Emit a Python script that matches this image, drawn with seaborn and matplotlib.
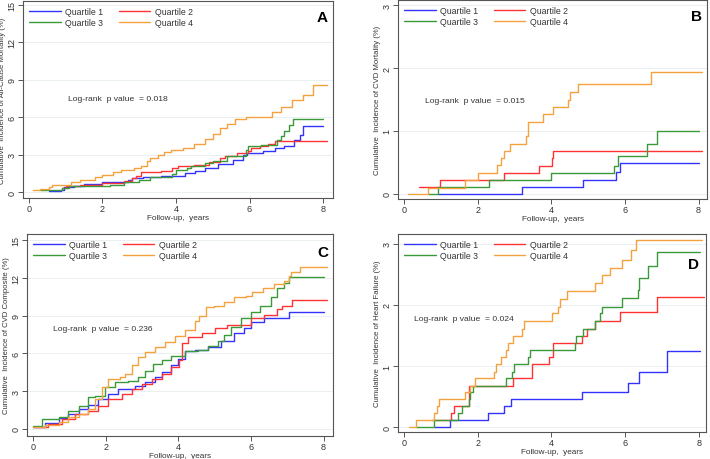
import matplotlib
matplotlib.use("Agg")
import matplotlib.pyplot as plt
import seaborn as sns
import pandas as pd

QUARTILES = ["Quartile 1", "Quartile 2", "Quartile 3", "Quartile 4"]
COLORS = ["#3333ff", "#ff3333", "#3a9a3a", "#f4a23e"]

# panel A - all-cause mortality (step knots: time, value after step)
a_q1_t = [0.55, 0.86, 0.95, 1.22, 1.5, 2.0, 2.7, 2.8, 3.1, 3.6, 4.24, 4.51, 4.78, 5.14, 5.55, 5.83, 5.92, 6.37, 6.7, 6.93, 7.2, 7.38, 7.45, 8.0]
a_q1_y = [0.05, 0.2, 0.37, 0.5, 0.65, 0.8, 0.95, 1.1, 1.2, 1.3, 1.5, 1.67, 1.93, 2.25, 2.6, 3.0, 3.15, 3.3, 3.5, 3.7, 4.2, 4.6, 5.3, 5.3]
a_q2_t = [0.9, 1.0, 1.4, 2.0, 2.6, 2.8, 2.9, 3.05, 3.6, 3.9, 4.05, 4.5, 4.9, 5.2, 5.33, 5.65, 5.97, 6.05, 6.28, 6.5, 6.7, 8.12]
a_q2_y = [0.3, 0.45, 0.6, 0.75, 0.85, 1.1, 1.3, 1.6, 1.7, 1.9, 2.1, 2.15, 2.4, 2.7, 2.85, 3.1, 3.3, 3.55, 3.65, 3.85, 4.05, 4.05]
a_q3_t = [0.3, 0.9, 1.1, 2.2, 2.6, 3.0, 3.3, 3.9, 4.0, 4.3, 4.4, 4.8, 5.0, 5.4, 5.9, 5.95, 6.3, 6.75, 6.85, 6.95, 7.08, 7.17, 8.0]
a_q3_y = [0.15, 0.35, 0.5, 0.6, 0.8, 0.95, 1.2, 1.45, 1.8, 1.9, 2.1, 2.3, 2.5, 2.85, 3.4, 3.7, 3.8, 4.2, 4.5, 4.9, 5.4, 5.85, 5.85]
a_q4_t = [0.11, 0.29, 0.55, 0.64, 1.14, 1.4, 1.8, 2.0, 2.3, 2.5, 2.86, 3.04, 3.2, 3.3, 3.5, 3.68, 3.86, 4.2, 4.5, 4.78, 5.0, 5.2, 5.4, 5.6, 5.9, 6.62, 6.85, 7.15, 7.45, 7.72, 8.1]
a_q4_y = [0.15, 0.24, 0.37, 0.6, 0.8, 1.0, 1.2, 1.4, 1.6, 1.75, 1.9, 2.05, 2.45, 2.7, 2.95, 3.2, 3.35, 3.55, 3.85, 4.25, 4.65, 5.1, 5.45, 5.85, 6.0, 6.4, 6.8, 7.4, 7.8, 8.6, 8.6]

# panel B - CVD mortality
b_q1_t = [0.92, 3.2, 4.85, 5.77, 5.88, 8.0]
b_q1_y = [0.0, 0.11, 0.22, 0.35, 0.49, 0.49]
b_q2_t = [0.4, 0.99, 2.73, 3.68, 4.02, 4.05, 8.1]
b_q2_y = [0.11, 0.22, 0.33, 0.45, 0.57, 0.68, 0.68]
b_q3_t = [0.65, 0.92, 2.3, 4.0, 5.7, 5.81, 6.6, 6.86, 8.0]
b_q3_y = [0.0, 0.11, 0.22, 0.33, 0.45, 0.6, 0.79, 1.0, 1.0]
b_q4_t = [0.1, 0.65, 1.65, 2.0, 2.53, 2.64, 2.73, 2.88, 3.31, 3.37, 3.78, 4.04, 4.45, 4.52, 4.74, 6.7, 8.1]
b_q4_y = [0.0, 0.1, 0.22, 0.33, 0.46, 0.57, 0.68, 0.8, 0.92, 1.15, 1.27, 1.38, 1.5, 1.62, 1.74, 1.94, 1.94]

# panel C - CVD composite
c_q1_t = [0.0, 0.33, 0.7, 0.97, 1.25, 1.52, 1.8, 2.07, 2.35, 2.8, 3.08, 3.36, 3.54, 3.8, 3.99, 4.18, 4.45, 4.82, 5.18, 5.54, 5.8, 6.0, 6.35, 7.04, 8.0]
c_q1_y = [0.15, 0.5, 0.9, 1.2, 1.6, 1.9, 2.4, 2.8, 3.2, 3.4, 3.7, 4.1, 4.5, 5.05, 5.6, 6.2, 6.3, 6.5, 7.0, 7.6, 8.0, 8.5, 8.8, 9.3, 9.3]
c_q2_t = [0.0, 0.4, 0.79, 1.16, 1.52, 1.8, 2.07, 2.44, 2.72, 2.99, 3.27, 3.54, 3.8, 4.03, 4.1, 4.27, 4.64, 5.0, 5.35, 6.0, 6.35, 6.72, 6.85, 7.13, 8.1]
c_q2_y = [0.13, 0.4, 0.8, 1.2, 1.46, 1.86, 2.4, 2.8, 3.2, 3.6, 4.0, 4.4, 4.95, 5.5, 6.8, 7.3, 7.6, 8.05, 8.3, 8.85, 9.1, 9.5, 9.8, 10.25, 10.25]
c_q3_t = [0.0, 0.24, 0.7, 0.97, 1.25, 1.52, 1.71, 1.98, 2.26, 2.62, 2.9, 3.08, 3.31, 3.54, 3.8, 4.18, 4.55, 4.82, 5.1, 5.26, 5.45, 5.72, 6.0, 6.26, 6.54, 6.72, 6.9, 7.04, 8.0]
c_q3_y = [0.2, 0.8, 0.93, 1.46, 1.86, 2.52, 2.65, 3.3, 3.7, 3.85, 4.1, 4.6, 5.2, 5.5, 5.8, 6.2, 6.3, 6.6, 7.0, 7.5, 8.1, 8.8, 9.3, 9.8, 10.5, 11.2, 11.6, 12.05, 12.05]
c_q4_t = [0.0, 0.33, 0.7, 0.97, 1.25, 1.52, 1.71, 1.89, 2.07, 2.4, 2.53, 2.72, 2.9, 3.08, 3.36, 3.63, 3.91, 4.18, 4.45, 4.58, 4.76, 4.99, 5.26, 5.54, 5.86, 6.04, 6.32, 6.64, 6.9, 7.04, 7.1, 7.36, 8.1]
c_q4_y = [0.13, 0.32, 0.53, 0.93, 1.2, 1.59, 2.4, 3.3, 3.98, 4.1, 4.4, 5.05, 5.7, 6.1, 6.5, 6.9, 7.4, 7.83, 8.6, 9.0, 9.68, 9.8, 10.1, 10.5, 10.6, 10.9, 11.2, 11.5, 11.8, 12.2, 12.5, 12.84, 12.84]

# panel D - heart failure
d_q1_t = [0.82, 1.26, 2.29, 2.72, 2.92, 4.83, 6.08, 6.37, 7.14, 8.03]
d_q1_y = [0.0, 0.11, 0.23, 0.34, 0.46, 0.57, 0.72, 0.9, 1.24, 1.24]
d_q2_t = [0.76, 1.29, 1.36, 1.76, 2.97, 3.49, 3.95, 4.05, 4.83, 4.96, 5.2, 5.87, 6.87, 8.14]
d_q2_y = [0.11, 0.23, 0.34, 0.68, 0.8, 1.03, 1.14, 1.37, 1.49, 1.6, 1.74, 1.89, 2.13, 2.13]
d_q3_t = [0.34, 0.82, 1.47, 1.58, 1.76, 1.8, 1.88, 2.78, 2.94, 3.0, 3.36, 3.42, 4.64, 4.66, 4.87, 5.19, 5.32, 5.39, 5.91, 6.35, 6.37, 6.62, 6.87, 8.03]
d_q3_y = [0.0, 0.11, 0.23, 0.34, 0.46, 0.57, 0.68, 0.8, 0.91, 1.03, 1.14, 1.26, 1.37, 1.49, 1.6, 1.74, 1.86, 1.97, 2.12, 2.24, 2.44, 2.64, 2.86, 2.86]
d_q4_t = [0.14, 0.34, 0.82, 0.9, 0.94, 1.65, 1.79, 1.92, 2.45, 2.49, 2.63, 2.78, 2.83, 2.96, 3.21, 3.25, 4.03, 4.17, 4.24, 4.44, 5.2, 5.39, 5.6, 5.91, 6.17, 6.3, 8.09]
d_q4_y = [0.0, 0.11, 0.23, 0.34, 0.46, 0.57, 0.68, 0.8, 0.91, 1.03, 1.14, 1.26, 1.37, 1.49, 1.6, 1.74, 1.86, 1.97, 2.1, 2.22, 2.36, 2.49, 2.61, 2.74, 2.9, 3.06, 3.06]

YLABELS = [
    "Cumulative  Incidence of All-Cause Mortality (%)",
    "Cumulative  Incidence of CVD Mortality (%)",
    "Cumulative  Incidence of CVD Composite (%)",
    "Cumulative  Incidence of Heart Failure (%)",
]
PVALUES = ["0.018", "0.015", "0.236", "0.024"]
LETTERS = ["A", "B", "C", "D"]


def make_df(curves):
    rows = []
    for name, (t, y) in zip(QUARTILES, curves):
        for ti, yi in zip(t, y):
            rows.append({"time": ti, "inc": yi, "group": name})
    return pd.DataFrame(rows)


panels = [
    dict(curves=[(a_q1_t, a_q1_y), (a_q2_t, a_q2_y), (a_q3_t, a_q3_y), (a_q4_t, a_q4_y)],
         rect=[0.0324, 0.5674, 0.4366, 0.4283], xlim=(-0.16, 8.27), ylim=(-0.48, 15.3),
         yticks=[0, 3, 6, 9, 12, 15], ptxt=(1.07, 7.5), letter=(0.965, 0.92)),
    dict(curves=[(b_q1_t, b_q1_y), (b_q2_t, b_q2_y), (b_q3_t, b_q3_y), (b_q4_t, b_q4_y)],
         rect=[0.5606, 0.5652, 0.4352, 0.4326], xlim=(-0.16, 8.23), ylim=(-0.08, 3.08),
         yticks=[0, 1, 2, 3], ptxt=(0.57, 1.48), letter=(0.965, 0.92)),
    dict(curves=[(c_q1_t, c_q1_y), (c_q2_t, c_q2_y), (c_q3_t, c_q3_y), (c_q4_t, c_q4_y)],
         rect=[0.0380, 0.0500, 0.4310, 0.4391], xlim=(-0.17, 8.26), ylim=(-0.56, 15.5),
         yticks=[0, 3, 6, 9, 12, 15], ptxt=(0.55, 8.0), letter=(0.967, 0.91)),
    dict(curves=[(d_q1_t, d_q1_y), (d_q2_t, d_q2_y), (d_q3_t, d_q3_y), (d_q4_t, d_q4_y)],
         rect=[0.5606, 0.0587, 0.4338, 0.4304], xlim=(-0.16, 8.2), ylim=(-0.08, 3.16),
         yticks=[0, 1, 2, 3], ptxt=(0.27, 1.77), letter=(0.958, 0.85)),
]

sns.set_style("ticks")
plt.rcParams["font.family"] = ["Liberation Sans", "DejaVu Sans"]
txt_col = "#333333"
spine_col = "#555555"

fig = plt.figure(figsize=(7.1, 4.6), dpi=100)

for i, p in enumerate(panels):
    ax = fig.add_axes(p["rect"])
    df = make_df(p["curves"])
    sns.lineplot(data=df, x="time", y="inc", hue="group", hue_order=QUARTILES,
                 palette=COLORS, estimator=None, sort=False, drawstyle="steps-post",
                 linewidth=1.0, ax=ax)
    ax.set_xlim(*p["xlim"])
    ax.set_ylim(*p["ylim"])
    ax.set_xticks([0, 2, 4, 6, 8])
    ax.set_yticks(p["yticks"])
    for yt in p["yticks"]:
        ax.axhline(yt, color="#e6ecef", lw=0.6, zorder=0)
    ax.tick_params(axis="both", labelsize=6.5, colors=spine_col, labelcolor=txt_col,
                   length=3.5, width=0.7, pad=1)
    for lab in ax.get_yticklabels():
        lab.set_rotation(90)
        lab.set_va("center")
    for s in ax.spines.values():
        s.set_color(spine_col)
        s.set_linewidth(0.8)
    ax.set_xlabel("Follow-up,  years", fontsize=5.9, color=txt_col, labelpad=0.5)
    ax.set_ylabel(YLABELS[i], fontsize=5.6, color=txt_col, labelpad=1)

    ax.text(p["ptxt"][0], p["ptxt"][1], f"Log-rank  p value  = {PVALUES[i]}",
            fontsize=6.1, color=txt_col, ha="left", va="center")
    ax.text(p["letter"][0], p["letter"][1], LETTERS[i], transform=ax.transAxes,
            fontsize=11, fontweight="bold", color="black", ha="center", va="center")

    handles, labels = ax.get_legend_handles_labels()
    hmap = dict(zip(labels, handles))
    order = ["Quartile 1", "Quartile 3", "Quartile 2", "Quartile 4"]
    ax.legend([hmap[k] for k in order], order, ncol=2, loc="upper left",
              bbox_to_anchor=(0, 1), borderaxespad=0, borderpad=0.7, frameon=False,
              fontsize=6.3, handlelength=3.6, handletextpad=0.5, columnspacing=1.8,
              labelspacing=0.25, labelcolor=txt_col)

fig.savefig("out.png", dpi=100)
